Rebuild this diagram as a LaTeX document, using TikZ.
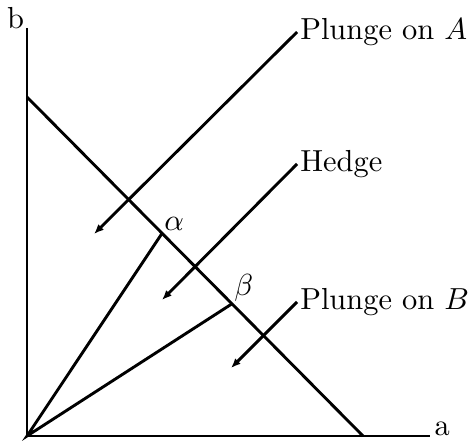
\documentclass[tikz,border=0pt]{standalone}
\usepackage{amsmath}
\usepackage{tikz}
\usetikzlibrary{arrows.meta,positioning,calc}

\begin{document}
\begin{tikzpicture}[line width=0.95pt,
  lbl/.style={anchor=west,inner sep=0.6pt},
  pt/.style={anchor=south west,inner sep=0.3pt},
  dir/.style={-{Latex[length=3.2pt,width=2.6pt]}}]
  \useasboundingbox (-0.312,-0.081) rectangle (5.117,5.036);

  % axes
  \coordinate (O) at (0,0);
  \coordinate (ytop) at (0,4.71);
  \coordinate (xend) at (4.655,0);
  \draw (ytop) -- (O) -- (xend);
  \node[anchor=base east,inner sep=0.5pt] (b) at (ytop) {b};
  \node[anchor=base west,inner sep=1pt] (a) at (xend) {a};

  % budget line and rays
  \coordinate (B1) at (0,3.915);
  \coordinate (B2) at (3.881,0);
  \draw (B1) -- (B2);
  \coordinate (alpha) at ($(B1)!0.402!(B2)$);
  \coordinate (beta) at ($(B1)!0.610!(B2)$);
  \draw (alpha) -- (O) -- (beta);
  \node[pt] (al) at (alpha) {$\alpha$};
  \node[pt] (be) at (beta) {$\beta$};

  % labels with arrows
  \node[lbl] (pa) at (3.119,4.666) {Plunge on $A$};
  \node[lbl] (hg) at (3.119,3.142) {Hedge};
  \node[lbl] (pb) at (3.119,1.548) {Plunge on $B$};
  \coordinate (ea) at (0.774,2.333);
  \coordinate (eh) at (1.559,1.571);
  \coordinate (eb) at (2.356,0.785);
  \draw[dir] (pa.west) -- (ea);
  \draw[dir] (hg.west) -- (eh);
  \draw[dir] (pb.west) -- (eb);
\end{tikzpicture}
\end{document}
